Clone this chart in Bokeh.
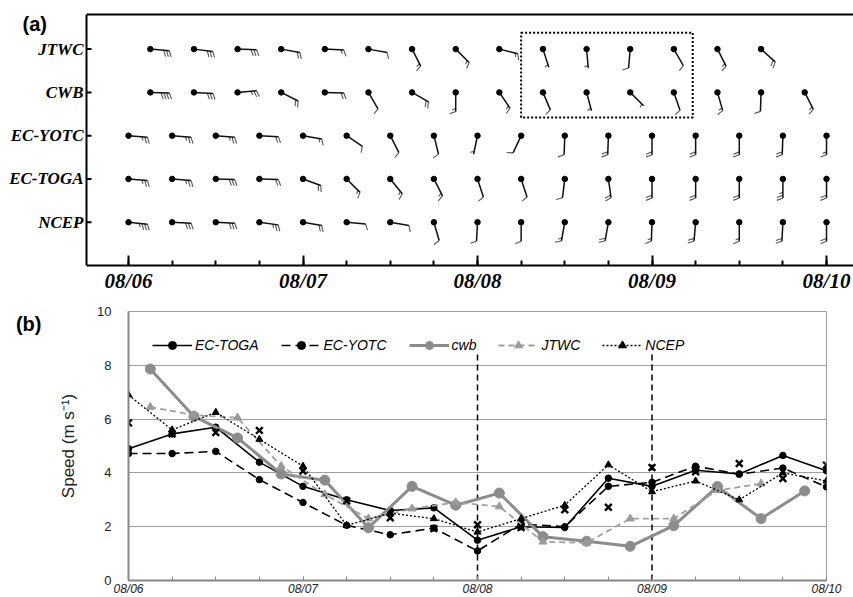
import math
from bokeh.plotting import figure
from bokeh.models import (Range1d, FixedTicker, Legend, LegendItem,
                          LinearAxis, BoxAnnotation)
from bokeh.core.properties import value
from bokeh.embed import file_html
from bokeh.resources import INLINE

# ---------------- data ----------------
# hours since 08/06 00Z
ec_hours = [0, 6, 12, 18, 24, 30, 36, 42, 48, 54, 60, 66, 72, 78, 84, 90, 96]
cwb_hours = [3, 9, 15, 21, 27, 33, 39, 45, 51, 57, 63, 69, 75, 81, 87, 93]
jtwc_hours = [3, 9, 15, 21, 27, 33, 39, 45, 51, 57, 63, 69, 75, 81, 87]

day_hours = [0, 24, 48, 72, 96]
day_labels = ["08/06", "08/07", "08/08", "08/09", "08/10"]
six_hour_ticks = [0, 6, 12, 18, 24, 30, 36, 42, 48, 54, 60, 66, 72, 78, 84, 90, 96]

# speeds (m/s)
ec_toga = [4.9, 5.45, 5.7, 4.4, 3.5, 3.0, 2.6, 2.7, 1.5, 2.0, 1.97, 3.8, 3.5, 4.1, 3.96, 4.65, 4.08]
ec_yotc = [4.72, 4.72, 4.8, 3.75, 2.9, 2.05, 1.7, 1.95, 1.1, 2.1, 2.0, 3.5, 3.65, 4.25, 3.95, 4.18, 3.48]
cwb = [7.86, 6.1, 5.3, 3.96, 3.73, 1.96, 3.5, 2.8, 3.25, 1.63, 1.46, 1.27, 2.04, 3.49, 2.3, 3.33]
jtwc = [6.45, 6.15, 6.05, 4.25, 3.2, 2.3, 2.67, 2.9, 2.75, 1.44, 1.4, 2.3, 2.3, 3.35, 3.6]
ncep = [6.9, 5.6, 6.25, 5.25, 4.25, 2.05, 2.5, 2.3, 1.8, 2.3, 2.8, 4.3, 3.3, 3.7, 3.0, 4.0, 3.7]
x_marks = [5.86, 5.45, 5.5, 5.58, 4.07, 2.96, 2.33, 1.93, 2.07, 1.97, 2.63, 2.72, 4.2, 4.04, 4.35, 3.79, 4.29]

# wind directions (deg, direction the barb staff points, compass)
jtwc_dir = [95, 97, 92, 100, 93, 100, 153, 135, 104, 162, 175, 185, 150, 153, 132]
cwb_dir = [92, 93, 85, 117, 92, 150, 120, 180, 146, 157, 165, 135, 161, 164, 182, 153]
ec_yotc_dir = [95, 95, 95, 93, 100, 124, 153, 166, 192, 205, 182, 182, 180, 180, 180, 182, 180]
ec_toga_dir = [95, 95, 92, 92, 110, 135, 141, 153, 162, 162, 187, 172, 180, 180, 180, 180, 180]
ncep_dir = [96, 93, 93, 98, 100, 95, 100, 164, 183, 180, 190, 190, 182, 185, 180, 183, 180]

row_names = ["NCEP", "EC-TOGA", "EC-YOTC", "CWB", "JTWC"]
row_values = [1, 2, 3, 4, 5]

box_hours = [54, 77.6]
box_rows = [3.42, 5.38]
vline_hours = [48, 72]

# ---------------- panel (a) ----------------
PXH = 767 / (99.71 + 5.78)          # pixels per hour
AXIS_X = -5.78                      # left edge of panel (a) box, hours
XA1 = 99.71
XA0 = XA1 - 853 / PXH               # frame spans whole width
YA0, YA1 = 0.0, 5.80
FH_A = 251
PXU = FH_A / (YA1 - YA0)

pa = figure(frame_width=853, frame_height=FH_A, min_border_left=0, min_border_right=0,
            min_border_top=14, min_border_bottom=31, output_backend="svg",
            toolbar_location=None, x_range=Range1d(XA0, XA1), y_range=Range1d(YA0, YA1),
            y_axis_location=None)
pa.outline_line_color = None
pa.grid.grid_line_color = None

STAFF, SP, FULL, HALF = 19.0, 2.8, 6.5, 4.0
LEAN = math.radians(22)

sx0, sy0, sx1, sy1 = [], [], [], []
fx0, fy0, fx1, fy1 = [], [], [], []
dot_x, dot_y = [], []


def add_barbs(hours, row, speeds, dirs):
    for h, spd, d in zip(hours, speeds, dirs):
        r = math.radians(d)
        ux, uy = math.sin(r), math.cos(r)
        px, py = uy, -ux
        bx = math.cos(LEAN) * px + math.sin(LEAN) * ux
        by = math.cos(LEAN) * py + math.sin(LEAN) * uy
        dot_x.append(h); dot_y.append(row)
        sx0.append(h); sy0.append(row)
        sx1.append(h + ux * STAFF / PXH); sy1.append(row + uy * STAFF / PXU)
        n = int(round(spd))
        full, half = divmod(n, 2)
        for i in range(full):
            off = STAFF - i * SP
            x0 = h + ux * off / PXH; y0 = row + uy * off / PXU
            fx0.append(x0); fy0.append(y0)
            fx1.append(x0 + bx * FULL / PXH); fy1.append(y0 + by * FULL / PXU)
        if half:
            off = STAFF - max(full, 1) * SP
            x0 = h + ux * off / PXH; y0 = row + uy * off / PXU
            fx0.append(x0); fy0.append(y0)
            fx1.append(x0 + bx * HALF / PXH); fy1.append(y0 + by * HALF / PXU)


add_barbs(jtwc_hours, 5, jtwc, jtwc_dir)
add_barbs(cwb_hours, 4, cwb, cwb_dir)
add_barbs(ec_hours, 3, ec_yotc, ec_yotc_dir)
add_barbs(ec_hours, 2, ec_toga, ec_toga_dir)
add_barbs(ec_hours, 1, ncep, ncep_dir)

pa.segment(fx0, fy0, fx1, fy1, line_color="#555555", line_width=1.1)
pa.segment(sx0, sy0, sx1, sy1, line_color="#111111", line_width=1.5)
pa.scatter(dot_x, dot_y, marker="circle", size=5.5, color="black")

pa.add_layout(BoxAnnotation(left=box_hours[0], right=box_hours[1], bottom=box_rows[0],
                            top=box_rows[1], fill_alpha=0, line_color="black",
                            line_alpha=1.0, line_dash="2 2", line_width=2))

serif = "Liberation Serif"
# hand-drawn left axis of panel (a): line, inward ticks, row labels
pa.segment(x0=[AXIS_X], y0=[YA0], x1=[AXIS_X], y1=[YA1], line_color="black", line_width=2)
pa.segment(x0=[AXIS_X] * len(row_values), y0=row_values,
           x1=[AXIS_X + 5 / PXH] * len(row_values), y1=row_values,
           line_color="black", line_width=2)
pa.text(x=[AXIS_X - 3 / PXH] * len(row_values), y=row_values, text=row_names,
        text_align="right", text_baseline="middle", text_font=value(serif),
        text_font_style="bold italic", text_font_size="17px", text_color="black")
pa.text(x=[AXIS_X - 64 / PXH], y=[5.57], text=["(a)"], text_align="left",
        text_baseline="middle", text_font=value("Liberation Sans"),
        text_font_style="bold", text_font_size="20px", text_color="black")

pa.xaxis.bounds = (AXIS_X, XA1)
pa.xaxis.ticker = FixedTicker(ticks=day_hours, minor_ticks=six_hour_ticks)
pa.xaxis.major_label_overrides = {h: l for h, l in zip(day_hours, day_labels)}
pa.xaxis.major_tick_in = 10
pa.xaxis.major_tick_out = 0
pa.xaxis.minor_tick_in = 5
pa.xaxis.minor_tick_out = 0
pa.xaxis.major_label_standoff = 3
pa.xaxis.axis_line_width = 2
pa.xaxis.axis_line_color = "black"
pa.xaxis.major_tick_line_color = "black"
pa.xaxis.major_tick_line_width = 2
pa.xaxis.minor_tick_line_color = "black"
pa.xaxis.minor_tick_line_width = 2
pa.xaxis.major_label_text_font = serif
pa.xaxis.major_label_text_font_style = "bold italic"
pa.xaxis.major_label_text_color = "black"
pa.xaxis.major_label_text_font_size = "21px"
top_axis = LinearAxis(ticker=FixedTicker(ticks=[]), axis_line_width=2, bounds=(AXIS_X, XA1),
                      axis_line_color="black", major_label_text_font_size="0px")
pa.add_layout(top_axis, "above")

# ---------------- panel (b) ----------------
pb = figure(frame_width=698, frame_height=269, min_border_left=128, min_border_right=27,
            min_border_top=15, min_border_bottom=17, output_backend="svg",
            toolbar_location=None, x_range=Range1d(0, 96), y_range=Range1d(0, 10))
pb.outline_line_color = "#a0a0a0"
pb.xgrid.grid_line_color = None
pb.ygrid.grid_line_color = "#a0a0a0"
pb.ygrid.ticker = FixedTicker(ticks=[0, 2, 4, 6, 8, 10])

pb.segment(x0=vline_hours, y0=[0, 0], x1=vline_hours, y1=[8.45, 8.45],
           line_color="black", line_dash="6 4", line_width=1.5)

l_toga = pb.line(ec_hours, ec_toga, line_color="black", line_width=1.6)
m_toga = pb.scatter(ec_hours, ec_toga, marker="circle", size=6.5, color="black")
l_yotc = pb.line(ec_hours, ec_yotc, line_color="black", line_width=1.6, line_dash="9 5")
m_yotc = pb.scatter(ec_hours, ec_yotc, marker="circle", size=6.5, color="black")
l_cwb = pb.line(cwb_hours, cwb, line_color="#8c8c8c", line_width=3)
m_cwb = pb.scatter(cwb_hours, cwb, marker="circle", size=10, color="#8c8c8c")
l_jtwc = pb.line(jtwc_hours, jtwc, line_color="#a0a0a0", line_width=1.8, line_dash="6 4")
m_jtwc = pb.scatter(jtwc_hours, jtwc, marker="triangle", size=8, color="#9a9a9a")
l_ncep = pb.line(ec_hours, ncep, line_color="black", line_width=1.3, line_dash="2 2")
m_ncep = pb.scatter(ec_hours, ncep, marker="triangle", size=7, color="black")
pb.scatter(ec_hours, x_marks, marker="x", size=9.5, line_color="black", line_width=2.4)

legend = Legend(items=[
    LegendItem(label="EC-TOGA", renderers=[l_toga, m_toga]),
    LegendItem(label="EC-YOTC", renderers=[l_yotc, m_yotc]),
    LegendItem(label="cwb", renderers=[l_cwb, m_cwb]),
    LegendItem(label="JTWC", renderers=[l_jtwc, m_jtwc]),
    LegendItem(label="NCEP", renderers=[l_ncep, m_ncep]),
], orientation="horizontal", location=(24, 225), margin=0, padding=10,
    glyph_width=40, label_standoff=3, spacing=22,
    border_line_color=None, background_fill_alpha=0,
    label_text_font="Liberation Sans", label_text_font_style="italic",
    label_text_font_size="14px", label_text_color="black")
pb.add_layout(legend, "center")

pb.xaxis.ticker = FixedTicker(ticks=day_hours, minor_ticks=six_hour_ticks)
pb.xaxis.major_label_overrides = {h: l for h, l in zip(day_hours, day_labels)}
pb.xaxis.major_tick_in = 4
pb.xaxis.major_tick_out = 0
pb.xaxis.minor_tick_in = 4
pb.xaxis.minor_tick_out = 0
pb.xaxis.major_label_standoff = 1
pb.xaxis.major_label_text_font = "Liberation Sans"
pb.xaxis.major_label_text_font_style = "italic"
pb.xaxis.major_label_text_font_size = "12px"
pb.xaxis.major_label_text_color = "#222"
for ax in (pb.xaxis, pb.yaxis):
    ax.axis_line_color = "#888"
    ax.axis_line_width = 2
    ax.major_tick_line_color = "#888"
    ax.minor_tick_line_color = "#888"
pb.yaxis.ticker = FixedTicker(ticks=[0, 2, 4, 6, 8, 10])
pb.yaxis.major_tick_in = 0
pb.yaxis.major_tick_out = 0
pb.yaxis.minor_tick_line_color = None
pb.yaxis.major_label_standoff = 17
pb.yaxis.major_label_text_font = "Liberation Sans"
pb.yaxis.major_label_text_font_size = "13px"
pb.yaxis.major_label_text_color = "#222"
pb.yaxis.axis_label = "Speed (m s\u207b\u00b9)"
pb.yaxis.axis_label_text_font = "Liberation Sans"
pb.yaxis.axis_label_text_font_style = "normal"
pb.yaxis.axis_label_text_font_size = "17px"
pb.yaxis.axis_label_text_color = "#222"
pb.yaxis.axis_label_standoff = 16

panel_b_tag = LinearAxis(ticker=FixedTicker(ticks=[9.55]), major_label_overrides={9.55: "(b)"},
                         axis_line_color=None, major_tick_line_color=None,
                         minor_tick_line_color=None, major_tick_in=0, major_tick_out=0,
                         major_label_standoff=15, major_label_text_font="Liberation Sans",
                         major_label_text_font_style="bold", major_label_text_font_size="20px",
                         major_label_text_color="black")
pb.add_layout(panel_b_tag, "left")

open("out.html", "w").write(file_html([pa, pb], INLINE))
